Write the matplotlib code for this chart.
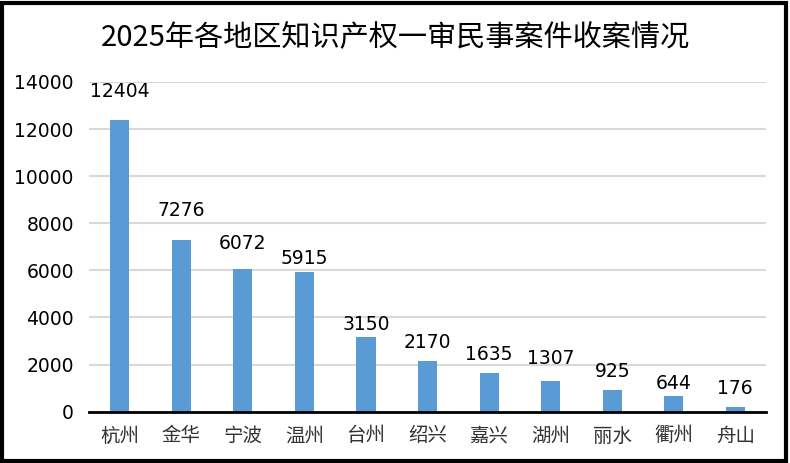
import matplotlib
matplotlib.use("Agg")
import matplotlib.pyplot as plt
from matplotlib.patches import Rectangle

regions = ["杭州", "金华", "宁波", "温州", "台州", "绍兴", "嘉兴", "湖州", "丽水", "衢州", "舟山"]
cases = [12404, 7276, 6072, 5915, 3150, 2170, 1635, 1307, 925, 644, 176]
yticks = [0, 2000, 4000, 6000, 8000, 10000, 12000, 14000]

# label gap above each bar in points (the source places them unevenly)
label_gap = [13.7, 14.4, 11.5, 2.9, 2.2, 5.8, 6.5, 9.4, 6.5, 2.2, 6.5]

title = "2025年各地区知识产权一审民事案件收案情况"
cjk = ["Noto Sans CJK SC", "DejaVu Sans"]

fig = plt.figure(figsize=(7.9, 4.63), dpi=100)
ax = fig.add_axes([0.1127, 0.111, 0.857, 0.712])

x = list(range(len(regions)))
bars = ax.bar(x, cases, width=0.31, color="#5B9BD5", zorder=3)

for xi, v, g in zip(x, cases, label_gap):
    ax.annotate(str(v), (xi, v), xytext=(0, g), textcoords="offset points",
                ha="center", va="bottom", fontsize=13.5, family="DejaVu Sans")

ax.set_xlim(-0.5, len(regions) - 0.5)
ax.set_ylim(0, 14000)
ax.set_yticks(yticks)
ax.set_yticklabels([str(t) for t in yticks], fontsize=13.5)
ax.set_xticks(x)
ax.set_xticklabels(regions, fontsize=14, family=cjk, color="#333333")
ax.tick_params(length=0)
ax.tick_params(axis="x", pad=10)
ax.tick_params(axis="y", pad=11)

ax.grid(axis="y", color="#D9D9D9", linewidth=1.5, zorder=0)
for s in ["top", "right", "left"]:
    ax.spines[s].set_visible(False)
ax.spines["bottom"].set_linewidth(2)
ax.spines["bottom"].set_color("black")
ax.spines["bottom"].set_zorder(4)

fig.text(0.5, 0.918, title, ha="center", va="center", fontsize=21, family=cjk)

fig.patches.append(Rectangle((0.002, 0.004), 0.993, 0.99, transform=fig.transFigure,
                             fill=False, edgecolor="black", linewidth=3))

fig.savefig("out.png", dpi=100)
